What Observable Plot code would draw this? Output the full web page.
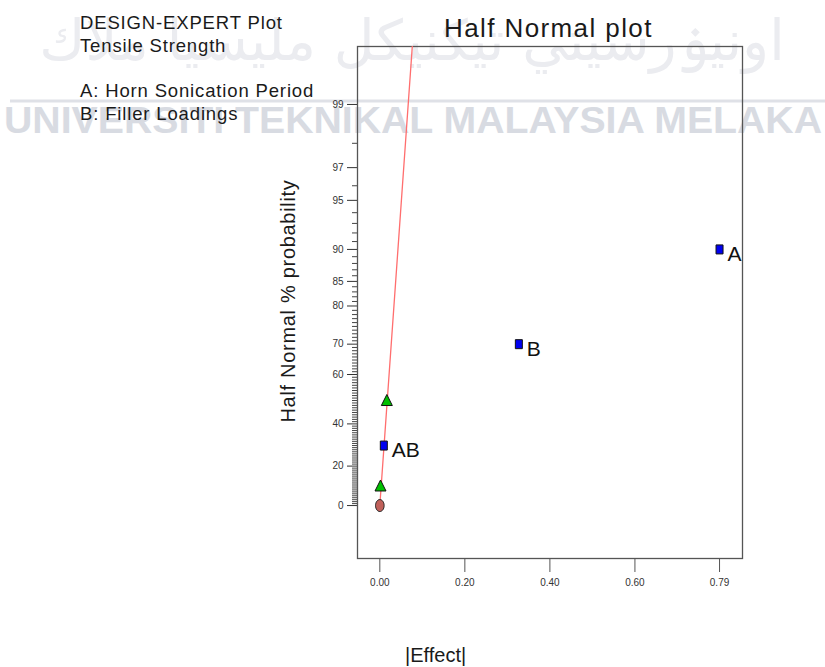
<!DOCTYPE html>
<html><head><meta charset="utf-8">
<script src="https://cdn.jsdelivr.net/npm/d3@7"></script>
<script src="https://cdn.jsdelivr.net/npm/@observablehq/plot@0.6"></script>
<style>
body{margin:0;background:#fff;font-family:"Liberation Sans",Arial,sans-serif;}
#wrap{position:relative;width:825px;height:667px;overflow:hidden;}
#bg,#fg{position:absolute;left:0;top:0;}
#chart{position:absolute;left:0;top:0;}
</style></head><body>
<div id="wrap">
<svg id="bg" width="825" height="667">
  <text x="412" y="60" text-anchor="middle" font-size="56" fill="#ebecf0" font-family="DejaVu Sans" direction="rtl">اونيۏرسيتي تيكنيكل مليسيا ملاك</text>
  <line x1="10" x2="825" y1="101" y2="101" stroke="#dfe1e7" stroke-width="3"></line>
  <text x="4" y="133" font-size="37" font-weight="bold" fill="#d8dbe2" font-family="Liberation Sans" textLength="818" lengthAdjust="spacingAndGlyphs">UNIVERSITI TEKNIKAL MALAYSIA MELAKA</text>
</svg>
<div id="chart"></div>
<svg id="fg" width="825" height="667" style="pointer-events:none" font-family="Liberation Sans" fill="#1a1a1a">
  <text x="80" y="29" font-size="18.5" letter-spacing="0.85">DESIGN-EXPERT Plot</text>
  <text x="80" y="52" font-size="18.5" letter-spacing="0.85">Tensile Strength</text>
  <text x="80" y="97" font-size="18.5" letter-spacing="0.85">A: Horn Sonication Period</text>
  <text x="80" y="120" font-size="18.5" letter-spacing="0.85">B: Filler Loadings</text>
  <text x="444" y="37" font-size="26" letter-spacing="1.4">Half Normal plot</text>
  <text transform="translate(295,301) rotate(-90)" text-anchor="middle" font-size="20" letter-spacing="0.7">Half Normal % probability</text>
  <text x="405" y="662" font-size="20">|Effect|</text>
</svg>
</div>
<script>
// ---- data ----
const termNames   = ["A", "B", "AB"];
const termEffects = [0.799, 0.327, 0.0094];
const termProbs   = [90, 70, 30];

const errorEffects = [0.0016, 0.0165];
const errorProbs   = [10, 50];

const zeroEffects = [0];
const zeroProbs   = [0];

const fitSlope = 0.0259; // |effect| per half-normal quantile unit

const yMajorProbs  = [0, 20, 40, 60, 70, 80, 85, 90, 95, 97, 99];
const yMajorLabels = ["0", "20", "40", "60", "70", "80", "85", "90", "95", "97", "99"];
const yMinorProbs  = d3.range(1, 90).filter(p => !yMajorProbs.includes(p)).concat([91, 92, 93, 94, 96, 98]);

const xTickValues = [0, 0.2, 0.4, 0.6, 0.799];
const xTickLabels = ["0.00", "0.20", "0.40", "0.60", "0.79"];

// ---- inverse normal (Acklam) ----
function invNorm(p) {
  const a = [-3.969683028665376e+01, 2.209460984245205e+02, -2.759285104469687e+02, 1.383577518672690e+02, -3.066479806614716e+01, 2.506628277459239e+00];
  const b = [-5.447609879822406e+01, 1.615858368580409e+02, -1.556989798598866e+02, 6.680131188771972e+01, -1.328068155288572e+01];
  const c = [-7.784894002430293e-03, -3.223964580411365e-01, -2.400758277161838e+00, -2.549671010229297e+00, 4.374664141464968e+00, 2.938163982698783e+00];
  const d = [7.784695709041462e-03, 3.224671290700398e-01, 2.445134137142996e+00, 3.754408661907416e+00];
  const pl = 0.02425, ph = 1 - pl;
  let q, r;
  if (p < pl) { q = Math.sqrt(-2 * Math.log(p)); return (((((c[0]*q+c[1])*q+c[2])*q+c[3])*q+c[4])*q+c[5]) / ((((d[0]*q+d[1])*q+d[2])*q+d[3])*q+1); }
  if (p <= ph) { q = p - 0.5; r = q*q; return (((((a[0]*r+a[1])*r+a[2])*r+a[3])*r+a[4])*r+a[5])*q / (((((b[0]*r+b[1])*r+b[2])*r+b[3])*r+b[4])*r+1); }
  q = Math.sqrt(-2 * Math.log(1 - p)); return -(((((c[0]*q+c[1])*q+c[2])*q+c[3])*q+c[4])*q+c[5]) / ((((d[0]*q+d[1])*q+d[2])*q+d[3])*q+1);
}
const hz = pct => invNorm(0.5 + pct / 200); // half-normal quantile

const yDomain = [-0.34, 2.948];
const xDomain = [-0.0525, 0.853];

const terms  = termNames.map((n, i) => ({name: n, x: termEffects[i], z: hz(termProbs[i])}));
const errors = errorEffects.map((e, i) => ({x: e, z: hz(errorProbs[i])}));
const zeros  = zeroEffects.map((e, i) => ({x: e, z: hz(zeroProbs[i])}));
const fit    = [0, yDomain[1]].map(z => ({x: fitSlope * z, z}));

const majorZ = yMajorProbs.map(hz);
const yLabelMap = new Map(majorZ.map((z, i) => [z, yMajorLabels[i]]));
const xLabelMap = new Map(xTickValues.map((v, i) => [v, xTickLabels[i]]));

const rectSym = {draw(ctx) { ctx.moveTo(-3.5, -4.5); ctx.lineTo(3.5, -4.5); ctx.lineTo(3.5, 4.5); ctx.lineTo(-3.5, 4.5); ctx.closePath(); }};
const triSym  = {draw(ctx) { ctx.moveTo(0, -6); ctx.lineTo(5.5, 5); ctx.lineTo(-5.5, 5); ctx.closePath(); }};
const ellSym  = {draw(ctx) {
  const rx = 4.3, ry = 6, k = 0.5523;
  ctx.moveTo(rx, 0);
  ctx.bezierCurveTo(rx, ry*k, rx*k, ry, 0, ry);
  ctx.bezierCurveTo(-rx*k, ry, -rx, ry*k, -rx, 0);
  ctx.bezierCurveTo(-rx, -ry*k, -rx*k, -ry, 0, -ry);
  ctx.bezierCurveTo(rx*k, -ry, rx, -ry*k, rx, 0);
  ctx.closePath();
}};

const chart = Plot.plot({
  width: 825, height: 667,
  marginLeft: 357, marginRight: 83, marginTop: 46, marginBottom: 109,
  style: {background: "transparent", fontFamily: "Liberation Sans, Arial, sans-serif", color: "#333"},
  x: {domain: xDomain},
  y: {domain: yDomain},
  marks: [
    Plot.axisY(yMinorProbs.map(hz), {tickSize: 5, tickFormat: () => "", label: null, stroke: "#444"}),
    Plot.axisY(majorZ, {tickSize: 10, tickPadding: 4, tickFormat: d => yLabelMap.get(d), label: null, fontSize: 10, stroke: "#333", fill: "#333"}),
    Plot.axisX(xTickValues, {tickSize: 14, tickPadding: 6, tickFormat: d => xLabelMap.get(d), label: null, fontSize: 10, stroke: "#555", fill: "#333"}),
    Plot.frame({stroke: "#555", strokeWidth: 1.3}),
    Plot.line(fit, {x: "x", y: "z", stroke: "#ff6e6e", strokeWidth: 1.3, clip: true}),
    Plot.dot(zeros, {x: "x", y: "z", symbol: ellSym, fill: "#c0605a", stroke: "#222", strokeWidth: 1}),
    Plot.dot(errors, {x: "x", y: "z", symbol: triSym, fill: "#00c000", stroke: "#111", strokeWidth: 1}),
    Plot.dot(terms, {x: "x", y: "z", symbol: rectSym, fill: "#0000f0", stroke: "#111", strokeWidth: 1}),
    Plot.text(terms, {x: "x", y: "z", text: "name", textAnchor: "start", dx: 8, dy: 5, fontSize: 21, fill: "#111"})
  ]
});
document.getElementById("chart").appendChild(chart);
</script>
</body></html>
